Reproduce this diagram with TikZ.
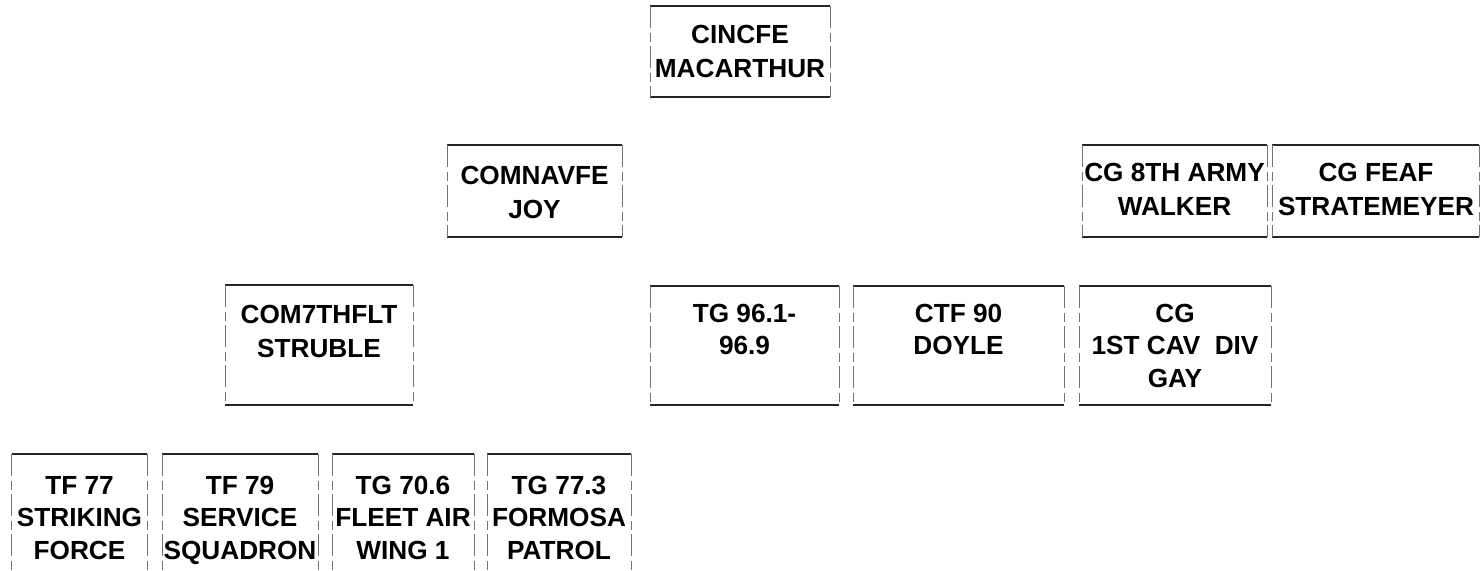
\documentclass[tikz,border=0pt]{standalone}
\usepackage{fontspec}
\setmainfont{Liberation Sans}
\newcommand\orgframe[1]{%
  \draw[edgeline] (#1.north west) -- (#1.north east);
  \draw[edgeline] (#1.south west) -- (#1.south east);
  \draw[sideline] (#1.north west) -- (#1.south west);
  \draw[sideline] (#1.north east) -- (#1.south east);}
\newcommand\orgopenframe[1]{%
  \draw[edgeline] (#1.north west) -- (#1.north east);
  \draw[sideline] (#1.north west) -- (#1.south west);
  \draw[sideline] (#1.north east) -- (#1.south east);}
\begin{document}
\begin{tikzpicture}[x=1bp,y=-1bp,
  orgbox/.style={draw=none, inner sep=0pt, outer sep=0pt},
  edgeline/.style={line width=1.5bp, black!85},
  sideline/.style={line width=1bp, black!55, dash pattern=on 22bp off 5bp on 9bp off 4bp},
  lbl/.style={inner sep=0pt, anchor=north, align=center,
    font=\fontsize{26.2bp}{34.5bp}\selectfont\bfseries},
  lblthree/.style={lbl, font=\fontsize{26.2bp}{32.5bp}\selectfont\bfseries}]
\useasboundingbox (0,0) rectangle (1481,571);
% boxes
\node[orgbox, minimum width=180bp, minimum height=91bp] (top) at (740,51.5) {};
\node[orgbox, minimum width=175bp, minimum height=92bp] (nav) at (534.5,191) {};
\node[orgbox, minimum width=185bp, minimum height=92bp] (army) at (1174.5,191) {};
\node[orgbox, minimum width=207bp, minimum height=92bp] (feaf) at (1375.5,191) {};
\node[orgbox, minimum width=188bp, minimum height=120bp] (fleet) at (319,345) {};
\node[orgbox, minimum width=189bp, minimum height=119bp] (tg96) at (744.5,345.5) {};
\node[orgbox, minimum width=211bp, minimum height=119bp] (ctf) at (958.5,345.5) {};
\node[orgbox, minimum width=192bp, minimum height=119bp] (cav) at (1175,345.5) {};
\node[orgbox, minimum width=135bp, minimum height=117bp] (tf77) at (79.5,512.5) {};
\node[orgbox, minimum width=156bp, minimum height=117bp] (tf79) at (240,512.5) {};
\node[orgbox, minimum width=142bp, minimum height=117bp] (tg706) at (403,512.5) {};
\node[orgbox, minimum width=144bp, minimum height=117bp] (tg773) at (559,512.5) {};
\orgframe{top}\orgframe{nav}\orgframe{army}\orgframe{feaf}
\orgframe{fleet}\orgframe{tg96}\orgframe{ctf}\orgframe{cav}
\orgopenframe{tf77}\orgopenframe{tf79}\orgopenframe{tg706}\orgopenframe{tg773}
% labels
\node[lbl] (top-t) at (740,25) {CINCFE\\MACARTHUR};
\node[lbl] (nav-t) at (534.5,166) {COMNAVFE\\JOY};
\node[lbl] (army-t) at (1174.5,163) {CG 8TH ARMY\\WALKER};
\node[lbl] (feaf-t) at (1376,163) {CG FEAF\\STRATEMEYER};
\node[lbl] (fleet-t) at (319,305) {COM7THFLT\\STRUBLE};
\node[lblthree] (tg96-t) at (744.5,304) {TG 96.1-\\96.9};
\node[lblthree] (ctf-t) at (958.5,304) {CTF 90\\DOYLE};
\node[lblthree] (cav-t) at (1175,304) {CG\\1ST CAV\ \ DIV\\GAY};
\node[lblthree] (tf77-t) at (79.5,476) {TF 77\\STRIKING\\FORCE};
\node[lblthree] (tf79-t) at (240,476) {TF 79\\SERVICE\\SQUADRON};
\node[lblthree] (tg706-t) at (403,476) {TG 70.6\\FLEET AIR\\WING 1};
\node[lblthree] (tg773-t) at (559,476) {TG 77.3\\FORMOSA\\PATROL};
\end{tikzpicture}
\end{document}
